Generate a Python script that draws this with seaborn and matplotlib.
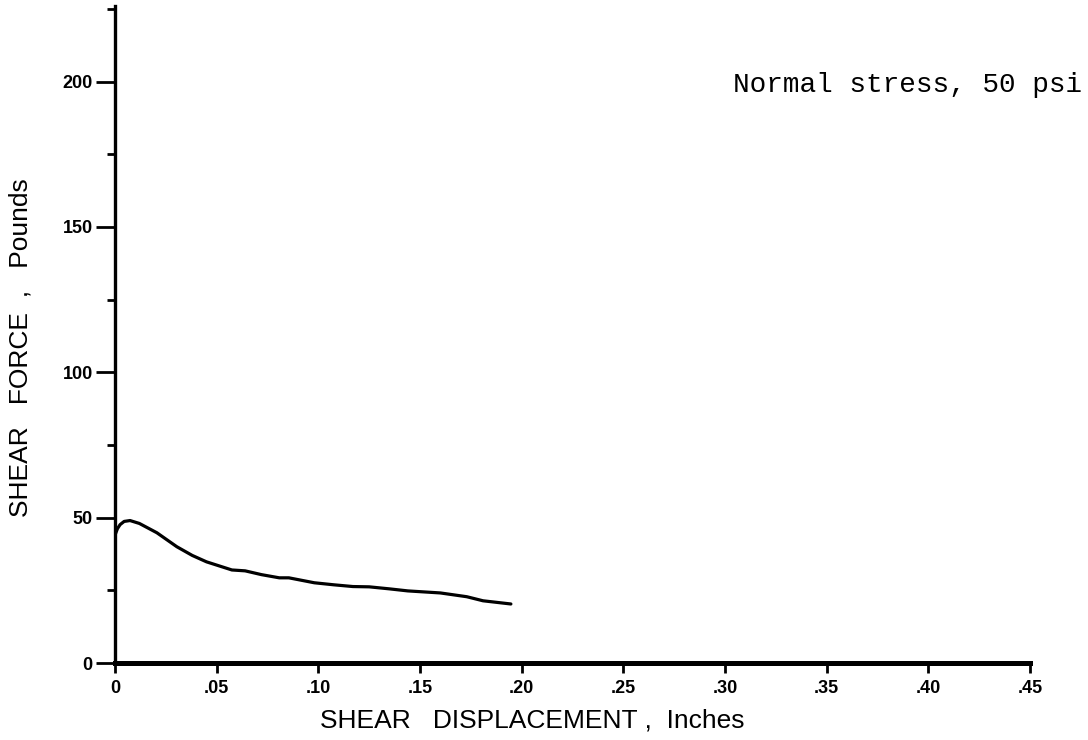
import matplotlib
matplotlib.use("Agg")
import matplotlib.pyplot as plt
import seaborn as sns
import pandas as pd
from matplotlib.ticker import MultipleLocator, FixedLocator

# ---- data ----
displacement = [0.0, 0.0012, 0.0025, 0.0045, 0.0074, 0.012, 0.0206, 0.0304,
                0.038, 0.045, 0.0575, 0.064, 0.072, 0.0808, 0.0855, 0.098,
                0.1076, 0.117, 0.125, 0.135, 0.144, 0.160, 0.173, 0.181, 0.1947]
shear_force = [44.0, 46.2, 47.6, 48.7, 49.0, 48.0, 44.8, 40.0,
               37.0, 34.8, 32.0, 31.7, 30.4, 29.3, 29.3, 27.6,
               26.9, 26.3, 26.2, 25.5, 24.8, 24.1, 22.8, 21.4, 20.3]
x_ticks = [0, 0.05, 0.10, 0.15, 0.20, 0.25, 0.30, 0.35, 0.40, 0.45]
x_tick_labels = ["0", ".05", ".10", ".15", ".20", ".25", ".30", ".35", ".40", ".45"]
y_ticks = [0, 50, 100, 150, 200]
y_tick_labels = ["0", "50", "100", "150", "200"]
annotation = "Normal stress, 50 psi"
x_label = "SHEAR   DISPLACEMENT ,  Inches"
y_label = "SHEAR   FORCE  ,   Pounds"

sns.set_style("white")
plt.rcParams['font.family'] = ['Liberation Sans', 'DejaVu Sans']
plt.rcParams['text.color'] = 'black'
plt.rcParams['axes.labelcolor'] = 'black'
plt.rcParams['xtick.color'] = 'black'
plt.rcParams['ytick.color'] = 'black'

fig = plt.figure(figsize=(10.88, 7.40), dpi=100)
ax = fig.add_axes([115/1088, 1 - 663/740, (1030 - 115)/1088, (663 - 6)/740])

df = pd.DataFrame({"x": displacement, "y": shear_force})
sns.lineplot(data=df, x="x", y="y", ax=ax, color="black", linewidth=2.3,
             sort=False, estimator=None)

ax.set_xlim(0, 0.45)
ax.set_ylim(0, 226)

for s in ["top", "right"]:
    ax.spines[s].set_visible(False)
ax.spines["left"].set_linewidth(2.4)
ax.spines["bottom"].set_linewidth(3.6)
ax.spines["left"].set_color("black")
ax.spines["bottom"].set_color("black")

ax.xaxis.set_major_locator(FixedLocator(x_ticks))
ax.set_xticklabels(x_tick_labels)
ax.yaxis.set_major_locator(FixedLocator(y_ticks))
ax.set_yticklabels(y_tick_labels)
ax.yaxis.set_minor_locator(MultipleLocator(25))

ax.tick_params(axis="x", which="major", direction="out", length=7, width=2,
               color="black", pad=5, labelsize=13, labelcolor="black")
ax.tick_params(axis="y", which="major", direction="out", length=14, width=2,
               color="black", pad=2, labelsize=13, labelcolor="black")
ax.tick_params(axis="y", which="minor", direction="out", length=6, width=2,
               color="black", left=True)
ax.tick_params(bottom=True, left=True)
for lab in ax.get_xticklabels() + ax.get_yticklabels():
    lab.set_fontweight("bold")

ax.set_xlabel(x_label, fontsize=19, color="black")
ax.xaxis.set_label_coords((532 - 115) / (1030 - 115), -0.07)
ax.set_ylabel(y_label, fontsize=19, color="black")
ax.yaxis.set_label_coords(-(115 - 33) / (1030 - 115), (663 - 348) / (663 - 6))

fig.text(733/1088, 1 - 85/740, annotation, fontsize=20, color="black",
         family=['Liberation Mono', 'DejaVu Sans Mono'], va="center", ha="left")

fig.savefig("out.png", dpi=100, facecolor="white")
